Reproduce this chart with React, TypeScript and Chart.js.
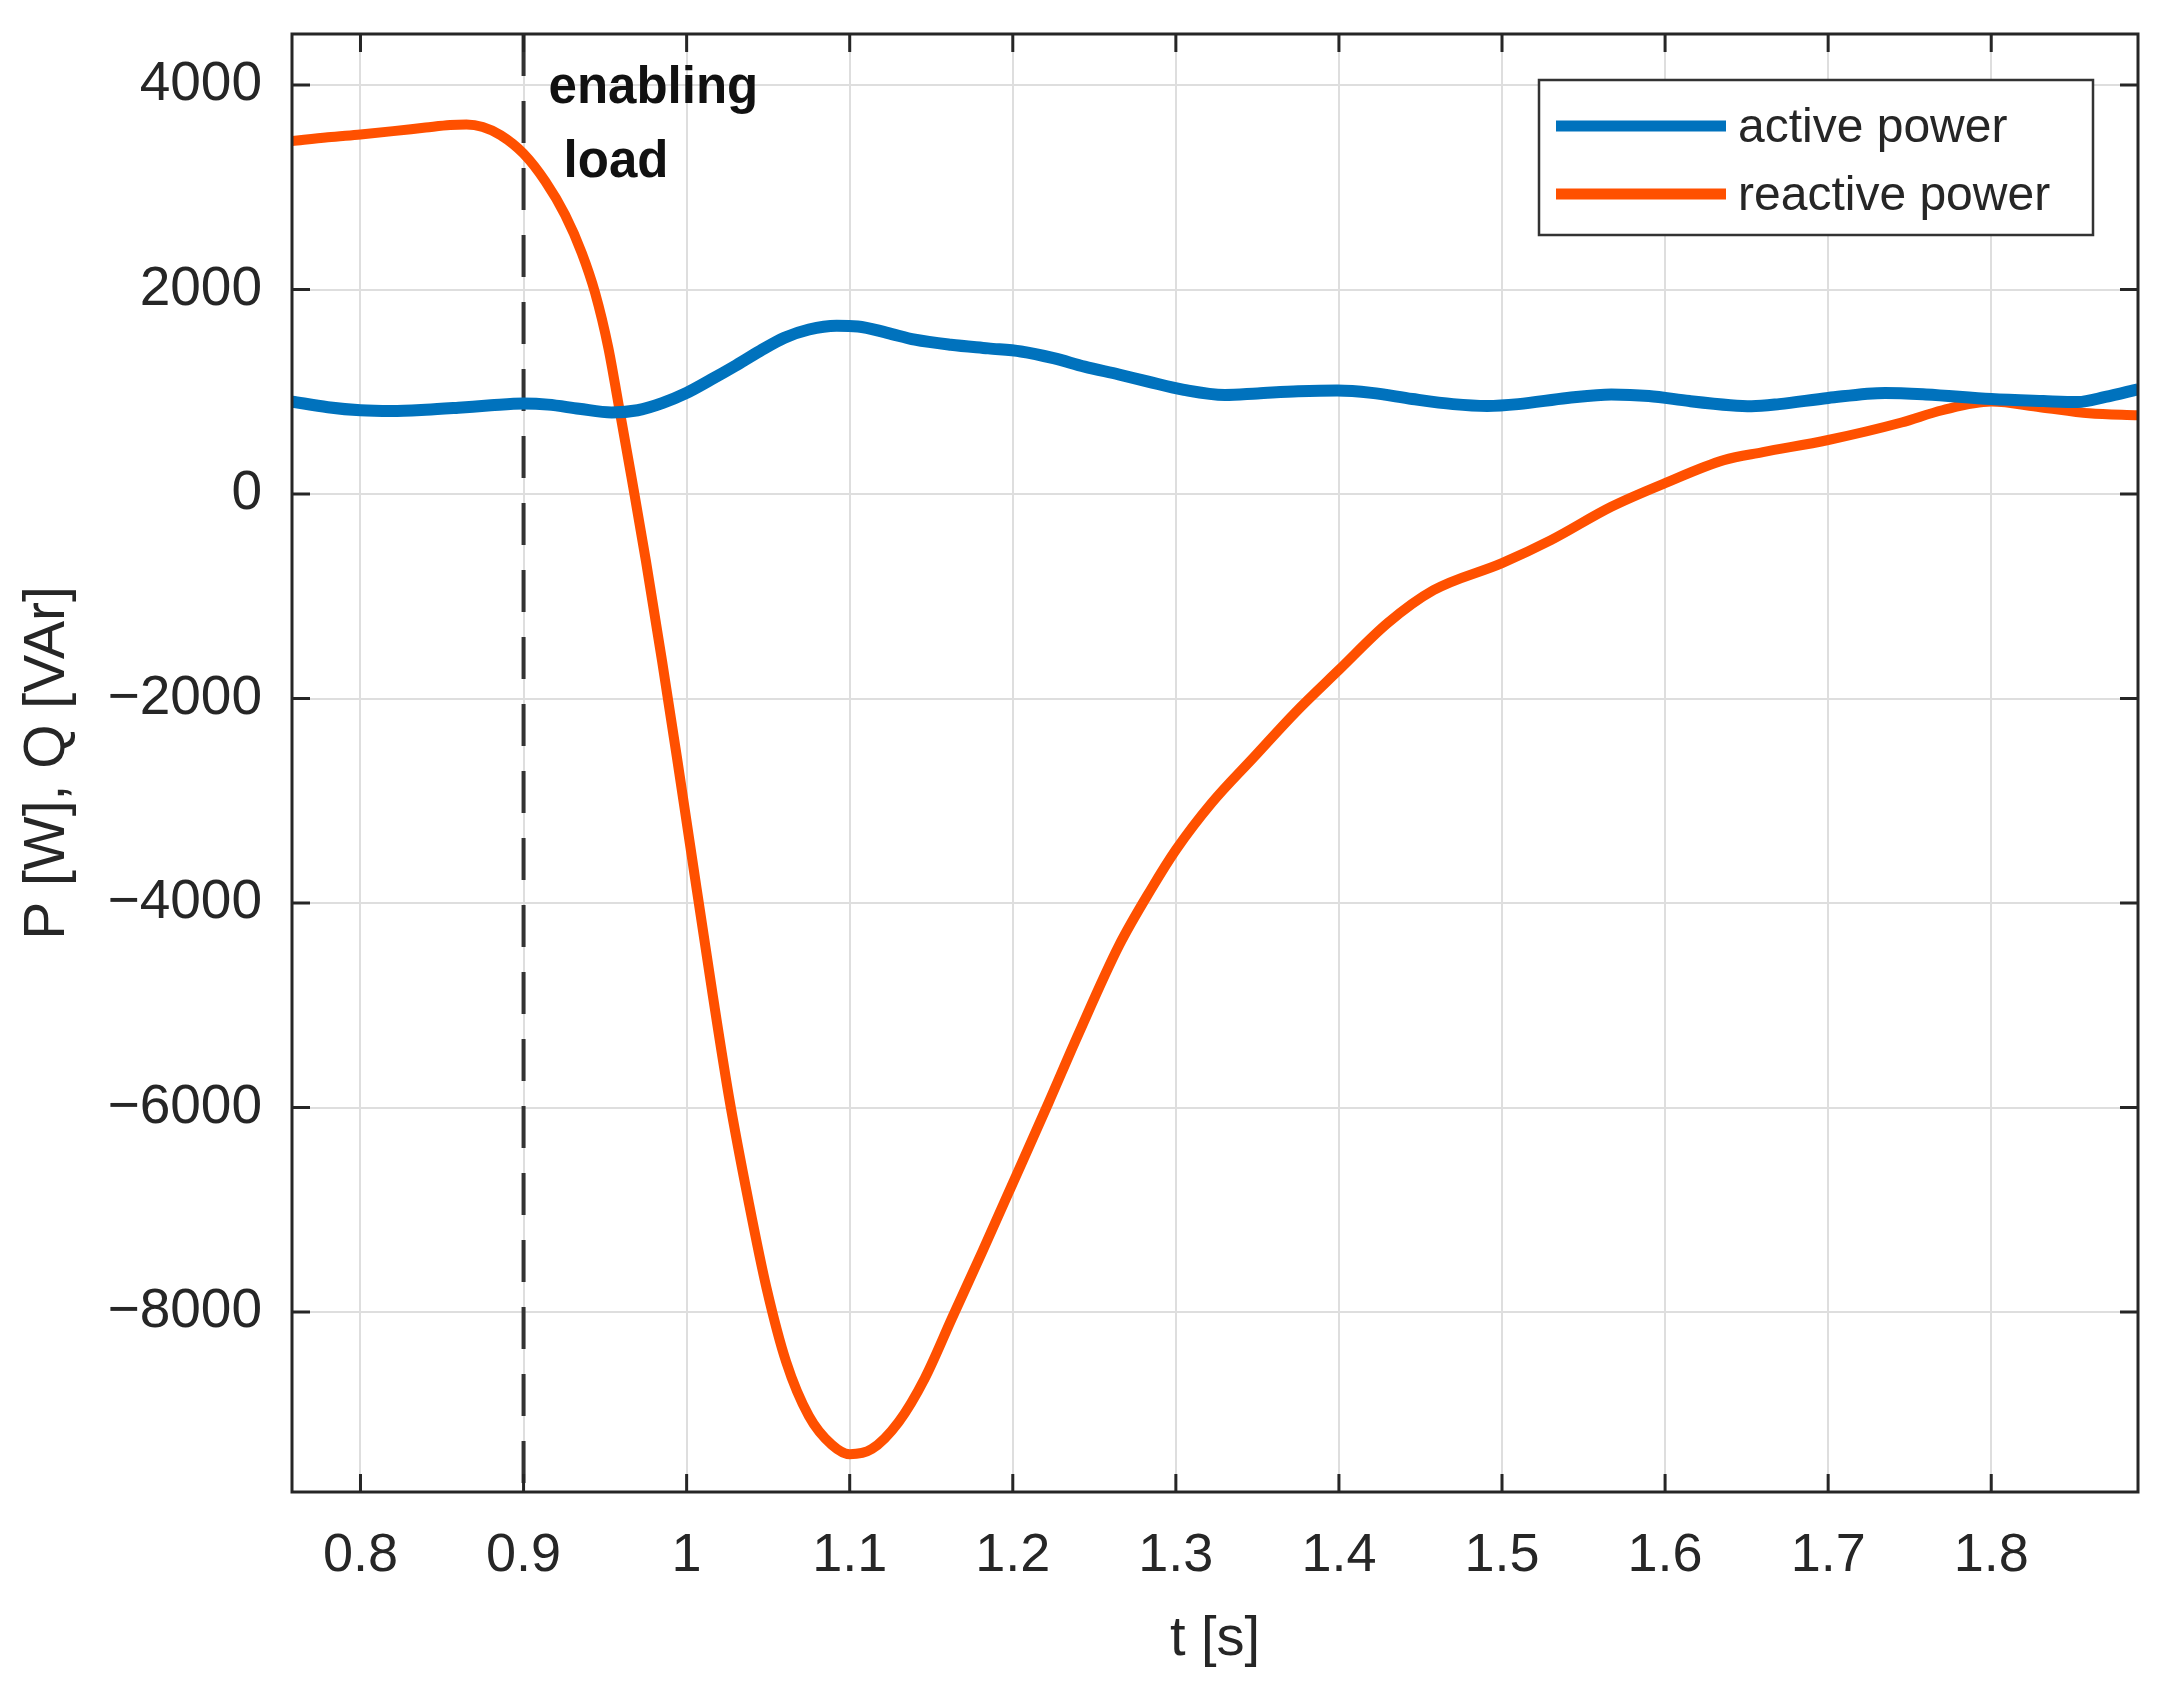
import React, { useEffect, useRef } from 'react';
import { Chart, registerables } from 'chart.js';

Chart.register(...registerables);

// time axis [s] and readings taken off the figure
const activeTime = [
  0.758, 0.78, 0.8, 0.819, 0.84, 0.86, 0.88, 0.9, 0.915, 0.934, 0.954, 0.97, 0.985,
  1.0, 1.015, 1.029, 1.045, 1.06, 1.075, 1.092, 1.105, 1.123, 1.14, 1.162, 1.185, 1.205,
  1.225, 1.244, 1.265, 1.283, 1.305, 1.33, 1.35, 1.375, 1.399, 1.42, 1.445, 1.47,
  1.491, 1.51, 1.54, 1.567, 1.59, 1.615, 1.64, 1.653, 1.67, 1.7, 1.735, 1.76, 1.8,
  1.832, 1.853, 1.87, 1.89,
];
const activePower = [
  905, 850, 820, 813, 825, 845, 868, 885, 875, 835, 798, 820, 890,
  990, 1120, 1247, 1400, 1529, 1610, 1646, 1640, 1577, 1510, 1460, 1425, 1395,
  1330, 1247, 1170, 1100, 1020, 970, 985, 1005, 1013, 990, 930, 880,
  862, 880, 940, 975, 960, 910, 870, 860, 880, 940, 990, 975, 930,
  910, 900, 950, 1025,
];

const reactiveTime = [
  0.758, 0.78, 0.8, 0.82, 0.84, 0.855, 0.865, 0.875, 0.886, 0.9, 0.9133, 0.9255,
  0.9357, 0.9439, 0.952, 0.958, 0.966, 0.975, 0.985, 0.994, 1.002, 1.016, 1.026,
  1.038, 1.049, 1.061, 1.075, 1.089, 1.1, 1.1135, 1.13, 1.146, 1.163, 1.181, 1.2,
  1.222, 1.24, 1.265, 1.285, 1.3, 1.322, 1.348, 1.373, 1.4, 1.43, 1.458, 1.5, 1.53,
  1.567, 1.6, 1.636, 1.66, 1.7, 1.745, 1.77, 1.8, 1.83, 1.86, 1.89,
];
const reactivePower = [
  3452, 3490, 3518, 3550, 3585, 3610, 3615, 3590, 3510, 3330, 3060, 2730,
  2359, 1967, 1430, 900, 180, -650, -1640, -2570, -3420, -4900, -5900,
  -6920, -7766, -8486, -9018, -9298, -9390, -9340, -9075, -8650, -8050, -7420, -6740,
  -5950, -5290, -4420, -3860, -3480, -3020, -2570, -2140, -1720, -1260, -940, -675, -450,
  -124, 107, 332, 410, 529, 700, 820, 905, 850, 790, 770,
];

const yTickValues = [-8000, -6000, -4000, -2000, 0, 2000, 4000];
const seriesLabels = ['active power', 'reactive power'];
const seriesColors = ['#0072BD', '#FF5000'];
const loadTime = 0.9;
const loadNote = ['enabling', 'load'];

const FONT = '"Liberation Sans", Arial, Helvetica, sans-serif';
const INK = '#262626';

const matlabAxes = {
  id: 'matlabAxes',
  beforeDatasetsDraw(chart: Chart) {
    const { ctx, chartArea: a } = chart;
    const px = chart.scales.x.getPixelForValue(loadTime);
    ctx.save();
    ctx.strokeStyle = '#333';
    ctx.lineWidth = 4;
    ctx.setLineDash([42, 25]);
    ctx.beginPath();
    ctx.moveTo(px, a.top);
    ctx.lineTo(px, a.bottom);
    ctx.stroke();
    ctx.restore();
  },
  afterDraw(chart: Chart) {
    const { ctx, chartArea: a } = chart;
    const xs = chart.scales.x;
    const ys = chart.scales.y;
    const tick = 18;
    ctx.save();
    ctx.strokeStyle = INK;
    ctx.lineWidth = 3;
    ctx.strokeRect(a.left, a.top, a.right - a.left, a.bottom - a.top);
    ctx.beginPath();
    xs.ticks.forEach((t) => {
      const p = xs.getPixelForValue(t.value);
      ctx.moveTo(p, a.bottom);
      ctx.lineTo(p, a.bottom - tick);
      ctx.moveTo(p, a.top);
      ctx.lineTo(p, a.top + tick);
    });
    ys.ticks.forEach((t) => {
      const p = ys.getPixelForValue(t.value);
      ctx.moveTo(a.left, p);
      ctx.lineTo(a.left + tick, p);
      ctx.moveTo(a.right, p);
      ctx.lineTo(a.right - tick, p);
    });
    ctx.stroke();

    // annotation next to the dashed line
    const px = xs.getPixelForValue(loadTime);
    ctx.fillStyle = '#111';
    ctx.font = `bold 51px ${FONT}`;
    ctx.textAlign = 'left';
    ctx.textBaseline = 'alphabetic';
    ctx.fillText(loadNote[0], px + 25, a.top + 69);
    ctx.fillText(loadNote[1], px + 40, a.top + 143);

    // legend box
    const bx = a.right - 599;
    const by = a.top + 46;
    const bw = 554;
    const bh = 155;
    ctx.fillStyle = '#fff';
    ctx.fillRect(bx, by, bw, bh);
    ctx.strokeStyle = '#333';
    ctx.lineWidth = 2.5;
    ctx.strokeRect(bx, by, bw, bh);
    ctx.font = `48px ${FONT}`;
    ctx.textBaseline = 'middle';
    seriesLabels.forEach((label, i) => {
      const ry = by + 46 + i * 68;
      ctx.strokeStyle = seriesColors[i];
      ctx.lineWidth = 11;
      ctx.beginPath();
      ctx.moveTo(bx + 17, ry);
      ctx.lineTo(bx + 187, ry);
      ctx.stroke();
      ctx.fillStyle = INK;
      ctx.fillText(label, bx + 199, ry + 3);
    });
    ctx.restore();
  },
};

export default function App() {
  const canvasRef = useRef<HTMLCanvasElement>(null);

  useEffect(() => {
    if (!canvasRef.current) return;
    const chart = new Chart(canvasRef.current, {
      type: 'line',
      data: {
        datasets: [
          {
            label: seriesLabels[0],
            data: activeTime.map((t, i) => ({ x: t, y: activePower[i] })),
            borderColor: seriesColors[0],
            borderWidth: 12,
            pointRadius: 0,
            cubicInterpolationMode: 'monotone',
            borderJoinStyle: 'round',
          },
          {
            label: seriesLabels[1],
            data: reactiveTime.map((t, i) => ({ x: t, y: reactivePower[i] })),
            borderColor: seriesColors[1],
            borderWidth: 10,
            pointRadius: 0,
            cubicInterpolationMode: 'monotone',
            borderJoinStyle: 'round',
          },
        ],
      },
      options: {
        animation: false,
        responsive: true,
        maintainAspectRatio: false,
        layout: { padding: { top: 34, right: 33, left: 0, bottom: 0 } },
        plugins: { legend: { display: false }, tooltip: { enabled: false } },
        scales: {
          x: {
            type: 'linear',
            min: 0.758,
            max: 1.89,
            afterFit: (s: any) => {
              s.height = 203;
              s.paddingLeft = 0;
              s.paddingRight = 0;
            },
            grid: { color: '#dedede', lineWidth: 2, drawTicks: false },
            border: { display: false },
            ticks: {
              stepSize: 0.1,
              includeBounds: false,
              padding: 32,
              color: INK,
              font: { family: FONT, size: 54 },
              callback: (v: any) => Number(v).toFixed(1).replace(/\.0$/, ''),
            },
            title: {
              display: true,
              text: 't [s]',
              color: INK,
              font: { family: FONT, size: 56 },
              padding: { top: 0, bottom: 22 },
            },
          },
          y: {
            type: 'linear',
            min: -9760,
            max: 4500,
            afterBuildTicks: (s: any) => {
              s.ticks = yTickValues.map((v) => ({ value: v }));
            },
            afterFit: (s: any) => {
              s.width = 292;
              s.paddingTop = 0;
              s.paddingBottom = 0;
            },
            grid: { color: '#dedede', lineWidth: 2, drawTicks: false },
            border: { display: false },
            ticks: {
              padding: 30,
              color: INK,
              font: { family: FONT, size: 55 },
              callback: (v: any) => String(v).replace('-', '\u2212'),
            },
            title: {
              display: true,
              text: 'P [W], Q [VAr]',
              color: INK,
              font: { family: FONT, size: 57 },
              padding: { top: 14, bottom: 0 },
            },
          },
        },
      },
      plugins: [matlabAxes],
    });
    return () => chart.destroy();
  }, []);

  return (
    <div style={{ position: 'absolute', left: 0, top: 0, width: 2171, height: 1695, background: '#fff' }}>
      <canvas ref={canvasRef} />
    </div>
  );
}
